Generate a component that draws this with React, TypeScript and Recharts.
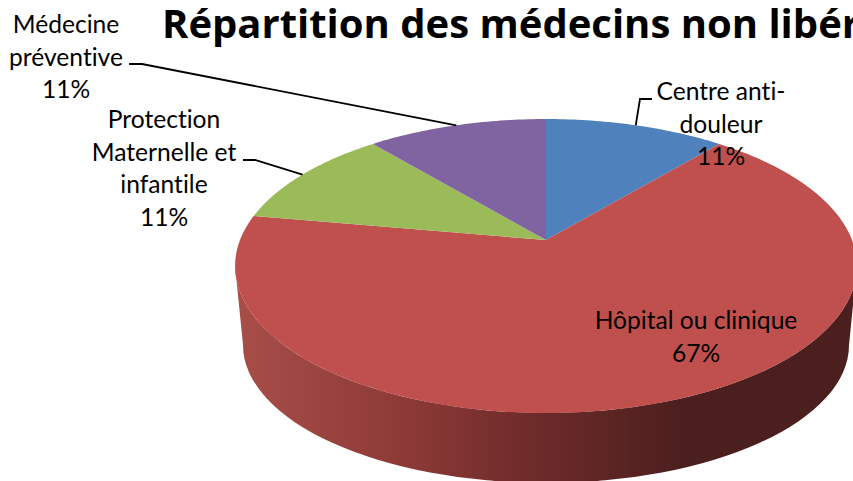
import { Pie, PieChart } from "recharts";

const categoryLines = [
  ["Centre anti-", "douleur"],
  ["Hôpital ou clinique"],
  ["Protection", "Maternelle et", "infantile"],
  ["Médecine", "préventive"],
];
const counts = [1, 6, 1, 1];
const sliceColors = ["#4F81BD", "#C0504D", "#9BBB59", "#8064A2"];
const chartTitle = "Répartition des médecins non libéraux";

const tableData = categoryLines.map((lines, i) => ({
  name: lines.join(" "),
  value: counts[i],
  fill: sliceColors[i],
}));

// Where each data label sits: centre x, first baseline, optional leader elbow.
const labelLayout = [
  { x: 721, y: 100, elbow: [[652, 99], [640, 99]] },
  { x: 696, y: 329, elbow: null },
  { x: 164, y: 128, elbow: [[243, 160], [255, 160]] },
  { x: 66, y: 33, elbow: [[129, 64], [142, 64]] },
];

const LINE_HEIGHT = 32.6;
const FONT = "Lato, 'Open Sans', sans-serif";
const TILT = 0.4654; // vertical squash of the disc
const PERSPECTIVE = 0.177; // the far edge shrinks, the near edge grows
const DEPTH_ELLIPSE = { rx: 303, ry: 138, dy: 105 };

// Math angle (degrees, as Recharts gives it) to a point on the tilted disc.
function project(cx: number, cy: number, r: number, angle: number) {
  const rad = (angle * Math.PI) / 180;
  const w = 1 + PERSPECTIVE * Math.sin(rad);
  return {
    x: cx + (r * Math.cos(rad)) / w,
    y: cy - (r * TILT * Math.sin(rad)) / w,
  };
}

function TiltedSlice(props: any) {
  const { cx, cy, outerRadius, startAngle, endAngle, fill, index } = props;
  const steps = Math.max(2, Math.ceil(Math.abs(endAngle - startAngle)));
  let d = `M${cx},${cy}`;
  for (let i = 0; i <= steps; i++) {
    const a = startAngle + ((endAngle - startAngle) * i) / steps;
    const p = project(cx, cy, outerRadius, a);
    d += `L${p.x.toFixed(2)},${p.y.toFixed(2)}`;
  }
  d += "Z";

  // Only the big slice faces the viewer, so it alone carries the rim.
  let rim = null;
  if (index === 1) {
    // Widest points of the projected disc are where sin(a) = -PERSPECTIVE.
    const side = (Math.asin(PERSPECTIVE) * 180) / Math.PI;
    const right = project(cx, cy, outerRadius, -side);
    const left = project(cx, cy, outerRadius, -180 + side);
    const topRx = (right.x - left.x) / 2;
    const topRy = (outerRadius * TILT) / (1 - PERSPECTIVE * PERSPECTIVE);
    const { rx, ry, dy } = DEPTH_ELLIPSE;
    const lowY = cy + dy;
    rim = (
      <path
        d={`M${left.x},${left.y}A${topRx},${topRy} 0 0 0 ${right.x},${right.y}L${cx + rx},${lowY}A${rx},${ry} 0 0 1 ${cx - rx},${lowY}Z`}
        fill="url(#rimShade)"
      />
    );
  }
  return (
    <g>
      {rim}
      <path d={d} fill={fill} />
    </g>
  );
}

function SliceLabel(props: any) {
  const { cx, cy, outerRadius, midAngle, percent, index } = props;
  const layout = labelLayout[index];
  const lines = [...categoryLines[index], `${Math.round(percent * 100)}%`];
  const end = project(cx, cy, outerRadius, midAngle);
  return (
    <g>
      {layout.elbow && (
        <polyline
          points={[...layout.elbow, [end.x, end.y]].map((p) => p.join(",")).join(" ")}
          fill="none"
          stroke="#000"
          strokeWidth={1.8}
        />
      )}
      <text
        x={layout.x}
        y={layout.y}
        textAnchor="middle"
        fontFamily={FONT}
        fontSize={24.6}
        fill="#000"
        style={{ fontVariantLigatures: "none" }}
      >
        {lines.map((line, i) => (
          <tspan key={i} x={layout.x} y={layout.y + i * LINE_HEIGHT}>
            {line}
          </tspan>
        ))}
      </text>
    </g>
  );
}

export default function App() {
  return (
    <div style={{ position: "absolute", left: 0, top: 0, width: 853, height: 481, overflow: "hidden" }}>
      <PieChart width={853} height={481} margin={{ top: 0, right: 0, bottom: 0, left: 0 }}>
        <defs>
          <linearGradient id="rimShade" gradientUnits="userSpaceOnUse" x1="235" y1="0" x2="857" y2="0">
            <stop offset="0%" stopColor="#A84E49" />
            <stop offset="27%" stopColor="#8D3A37" />
            <stop offset="49%" stopColor="#6C2A29" />
            <stop offset="72%" stopColor="#4B1F1E" />
            <stop offset="100%" stopColor="#4B1F1E" />
          </linearGradient>
        </defs>
        <Pie
          data={tableData}
          dataKey="value"
          nameKey="name"
          cx={546}
          cy={240}
          innerRadius={0}
          outerRadius={306}
          startAngle={90}
          endAngle={-270}
          stroke="none"
          shape={TiltedSlice}
          label={SliceLabel}
          labelLine={false}
          isAnimationActive={false}
        />
        <text x={162} y={38} fontFamily="'Open Sans', sans-serif" fontSize={40} fontWeight={700} fill="#000">
          {chartTitle}
        </text>
      </PieChart>
    </div>
  );
}
